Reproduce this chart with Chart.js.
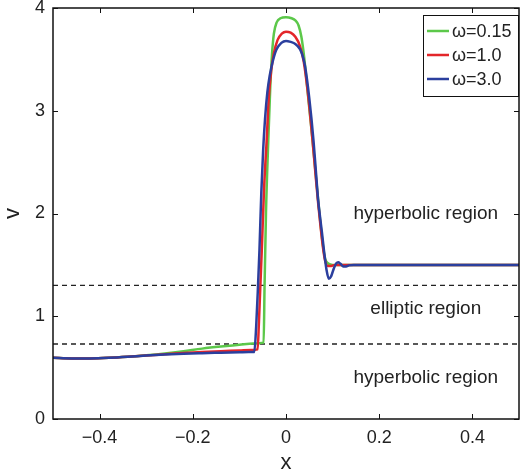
<!DOCTYPE html>
<html><head><meta charset="utf-8">
<script src="https://cdn.jsdelivr.net/npm/chart.js@4/dist/chart.umd.min.js"></script>
<style>html,body{margin:0;padding:0;background:#fff}#wrap{width:525px;height:471px}</style>
</head><body><div id="wrap"><canvas id="c" width="525" height="471"></canvas></div>
<script>
// ---- data ----
const xTicks = [-0.4, -0.2, 0, 0.2, 0.4];
const yTicks = [0, 1, 2, 3, 4];
const seriesLabels = ['ω=0.15', 'ω=1.0', 'ω=3.0'];

const xGreen = [-0.5,-0.46,-0.42,-0.38,-0.34,-0.3,-0.26,-0.22,-0.18,-0.14,-0.1,-0.07,-0.048,-0.046,-0.043,-0.038,-0.034,-0.03,-0.026,-0.02,-0.012,0,0.012,0.02,0.027,0.033,0.039,0.045,0.051,0.057,0.063,0.069,0.074,0.079,0.084,0.089,0.095,0.1,0.2,0.3,0.4,0.5];
const vGreen = [0.595,0.59,0.59,0.595,0.605,0.62,0.638,0.66,0.685,0.705,0.722,0.735,0.743,1.3,2.0,2.71,3.2,3.55,3.75,3.86,3.9,3.91,3.9,3.88,3.83,3.72,3.52,3.25,2.98,2.71,2.42,2.13,1.9,1.7,1.56,1.52,1.505,1.5,1.5,1.5,1.5,1.5];

const xRed = [-0.5,-0.46,-0.42,-0.38,-0.34,-0.3,-0.26,-0.22,-0.18,-0.14,-0.1,-0.075,-0.061,-0.058,-0.055,-0.052,-0.047,-0.0415,-0.037,-0.032,-0.026,-0.018,-0.009,0,0.01,0.02,0.03,0.038,0.045,0.051,0.057,0.063,0.069,0.074,0.079,0.084,0.09,0.097,0.105,0.2,0.3,0.4,0.5];
const vRed = [0.595,0.59,0.59,0.595,0.605,0.618,0.63,0.642,0.652,0.66,0.667,0.672,0.678,0.95,1.3,1.64,2.25,2.71,3.12,3.38,3.56,3.69,3.75,3.77,3.76,3.72,3.63,3.48,3.25,3.0,2.71,2.4,2.1,1.88,1.68,1.54,1.49,1.49,1.5,1.5,1.5,1.5,1.5];

const xBlue = [-0.5,-0.46,-0.42,-0.38,-0.34,-0.3,-0.26,-0.22,-0.18,-0.14,-0.1,-0.08,-0.068,-0.064,-0.06,-0.057,-0.053,-0.049,-0.045,-0.04,-0.035,-0.029,-0.021,-0.01,0,0.01,0.02,0.03,0.036,0.041,0.05,0.059,0.064,0.069,0.073,0.077,0.082,0.087,0.092,0.097,0.103,0.108,0.112,0.117,0.123,0.129,0.135,0.145,0.2,0.3,0.4,0.5];
const vBlue = [0.595,0.59,0.59,0.595,0.605,0.618,0.628,0.636,0.641,0.645,0.649,0.651,0.653,0.9,1.3,1.64,2.2,2.62,2.92,3.18,3.34,3.47,3.59,3.66,3.68,3.67,3.65,3.6,3.53,3.43,3.12,2.71,2.42,2.13,1.97,1.82,1.62,1.45,1.365,1.39,1.47,1.515,1.525,1.51,1.485,1.485,1.495,1.5,1.5,1.5,1.5,1.5];

const boundaryLevels = [1.3, 0.73];
const regionLabels = ['hyperbolic region', 'elliptic region', 'hyperbolic region'];
const regionX = [0.3, 0.3, 0.3];
const regionV = [2.0, 1.07, 0.4];

// ---- build ----
const toPts = (xs, vs) => xs.map((x, i) => ({x: x, y: vs[i]}));
const colors = ['#5cc84a', '#e3262a', '#2b3f9e'];
const FONT = '"Liberation Sans", Arial, Helvetica, sans-serif';
const fmt = v => (v < 0 ? '\u2212' + Math.abs(v) : String(v));

const curveSets = [[xGreen, vGreen], [xRed, vRed], [xBlue, vBlue]].map((s, i) => ({
  label: seriesLabels[i],
  data: toPts(s[0], s[1]),
  borderColor: colors[i],
  backgroundColor: colors[i],
  borderWidth: 2.5,
  pointRadius: 0,
  showLine: true,
  cubicInterpolationMode: 'monotone',
  order: 3 - i
}));
const dashSets = boundaryLevels.map(L => ({
  label: '',
  data: [{x: -0.5, y: L}, {x: 0.5, y: L}],
  borderColor: '#222',
  borderWidth: 1.3,
  borderDash: [5, 4],
  pointRadius: 0,
  showLine: true,
  order: 10
}));

const decor = {
  id: 'decor',
  afterDraw(chart) {
    const ctx = chart.ctx, ca = chart.chartArea;
    const xs = chart.scales.x, ys = chart.scales.y;
    ctx.save();
    ctx.strokeStyle = '#111'; ctx.lineWidth = 1.5;
    ctx.strokeRect(ca.left, ca.top, ca.right - ca.left, ca.bottom - ca.top);
    ctx.lineWidth = 1;
    const tl = 5;
    xTicks.forEach(v => {
      const p = Math.round(xs.getPixelForValue(v)) + 0.5;
      ctx.beginPath();
      ctx.moveTo(p, ca.bottom); ctx.lineTo(p, ca.bottom - tl);
      ctx.moveTo(p, ca.top); ctx.lineTo(p, ca.top + tl);
      ctx.stroke();
    });
    yTicks.forEach(v => {
      const p = Math.round(ys.getPixelForValue(v)) + 0.5;
      ctx.beginPath();
      ctx.moveTo(ca.left, p); ctx.lineTo(ca.left + tl, p);
      ctx.moveTo(ca.right, p); ctx.lineTo(ca.right - tl, p);
      ctx.stroke();
    });
    ctx.fillStyle = '#222';
    ctx.font = '19px ' + FONT;
    ctx.textAlign = 'center'; ctx.textBaseline = 'middle';
    regionLabels.forEach((t, i) => {
      ctx.fillText(t, xs.getPixelForValue(regionX[i]), ys.getPixelForValue(regionV[i]));
    });
    const w = 95, h = 81;
    const x0 = ca.right - w - 1, y0 = ca.top + 7;
    ctx.fillStyle = '#fff';
    ctx.fillRect(x0, y0, w, h);
    ctx.strokeStyle = '#111'; ctx.lineWidth = 1;
    ctx.strokeRect(x0 + 0.5, y0 + 0.5, w, h);
    ctx.textAlign = 'left';
    ctx.font = '18px ' + FONT;
    chart.data.datasets.slice(0, 3).forEach((ds, i) => {
      const yy = y0 + 16 + i * 24;
      ctx.strokeStyle = ds.borderColor; ctx.lineWidth = 2.5;
      ctx.beginPath(); ctx.moveTo(x0 + 4, yy); ctx.lineTo(x0 + 26, yy); ctx.stroke();
      ctx.fillStyle = '#222';
      ctx.fillText(ds.label, x0 + 29, yy + 1);
    });
    ctx.restore();
  }
};

new Chart(document.getElementById('c'), {
  type: 'scatter',
  data: {datasets: curveSets.concat(dashSets)},
  options: {
    responsive: false,
    devicePixelRatio: 1,
    animation: false,
    layout: {padding: {top: 8, right: 6, left: 0, bottom: 0}},
    plugins: {legend: {display: false}, tooltip: {enabled: false}},
    scales: {
      x: {
        type: 'linear', min: -0.5, max: 0.5,
        afterBuildTicks: s => { s.ticks = xTicks.map(v => ({value: v})); },
        afterFit: s => { s.height = 52; s.paddingLeft = 0; s.paddingRight = 0; },
        grid: {display: false, drawTicks: false},
        border: {display: false},
        ticks: {font: {size: 18, family: FONT}, color: '#222', padding: 8, callback: v => fmt(v), maxRotation: 0},
        title: {display: true, text: 'x', font: {size: 22, family: FONT, lineHeight: 0.7}, color: '#222', padding: {top: 0, bottom: 0}}
      },
      y: {
        type: 'linear', min: 0, max: 4,
        afterBuildTicks: s => { s.ticks = yTicks.map(v => ({value: v})); },
        afterFit: s => { s.width = 53; s.paddingTop = 0; s.paddingBottom = 0; },
        grid: {display: false, drawTicks: false},
        border: {display: false},
        ticks: {font: {size: 18, family: FONT}, color: '#222', padding: 8, callback: v => fmt(v)},
        title: {display: true, text: 'v', font: {size: 22, family: FONT}, color: '#222', padding: {top: 0, bottom: 0}}
      }
    }
  },
  plugins: [decor]
});
</script>
</body></html>
